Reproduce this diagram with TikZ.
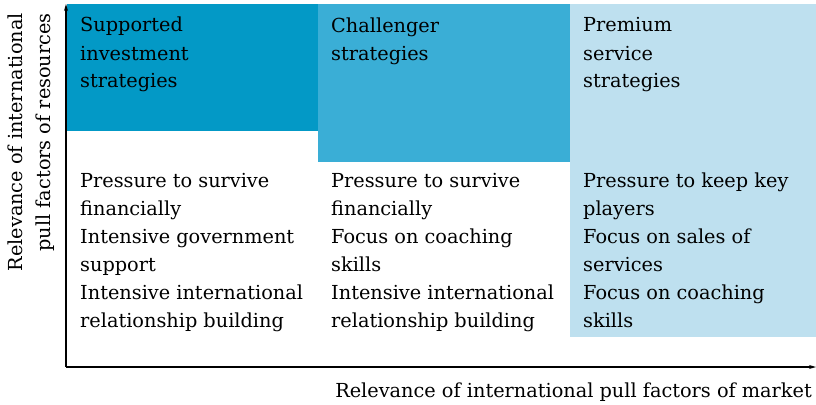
\documentclass[tikz,border=0pt]{standalone}
\usepackage{fontspec}
\setmainfont{DejaVu Serif}
\usepackage{xcolor}
\usetikzlibrary{arrows.meta,positioning}
\definecolor{deepcyan}{HTML}{0399C6}
\definecolor{midcyan}{HTML}{3AAED6}
\definecolor{palecyan}{HTML}{BEE0EF}

\begin{document}
\begin{tikzpicture}[
  x=1pt, y=-1pt,
  >={Stealth[length=7pt, width=4pt]},
  every node/.style={font=\fontsize{19.3}{28}\selectfont, inner sep=0pt},
  cell/.style={anchor=north west, fill=#1},
  txt/.style={anchor=base west, align=left},
  axis/.style={->, line width=1.1pt}
]
\useasboundingbox (0,0) rectangle (816,404);

% coloured column backgrounds
\node[cell=deepcyan, minimum width=251pt, minimum height=127pt] (supp) at (67,4) {};
\node[cell=midcyan,  minimum width=252pt, minimum height=158pt] (chal) at (318,4) {};
\node[cell=palecyan, minimum width=246pt, minimum height=333pt] (prem) at (570,4) {};

% headings (anchored on their last baseline)
\node[txt] (suppHead) at (80,88)  {Supported\\investment\\strategies};
\node[txt] (chalHead) at (331,60) {Challenger\\strategies};
\node[txt] (premHead) at (583,88) {Premium\\service\\strategies};

% bodies
\node[txt] (suppBody) at (80,327)  {Pressure to survive\\financially\\Intensive government\\support\\Intensive international\\relationship building};
\node[txt] (chalBody) at (331,327) {Pressure to survive\\financially\\Focus on coaching\\skills\\Intensive international\\relationship building};
\node[txt] (premBody) at (583,327) {Pressure to keep key\\players\\Focus on sales of\\services\\Focus on coaching\\skills};

% axes
\coordinate (origin) at (66,367);
\coordinate (ytip) at (66,4);
\coordinate (xtip) at (816,367);
\draw[axis] (origin) -- (ytip);
\draw[axis] (origin) -- (xtip);

\node[anchor=base east] (xlab) at (812,397) {Relevance of international pull factors of market};
\node[anchor=base east, align=right, rotate=90] (ylab) at (50,13) {Relevance of international\\pull factors of resources};
\end{tikzpicture}
\end{document}
